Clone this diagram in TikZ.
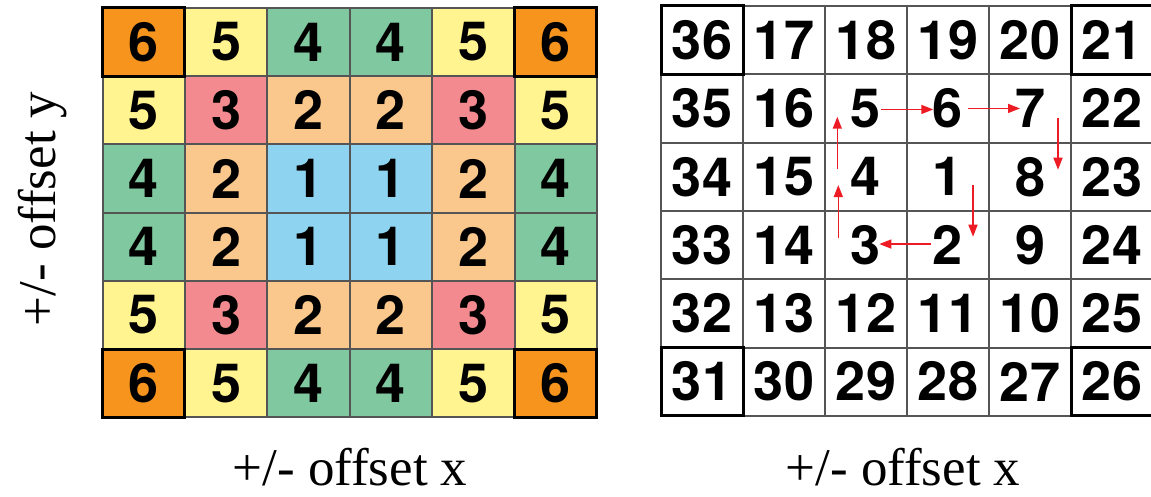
\documentclass[tikz,border=0pt]{standalone}
\usepackage{fontspec}
\setmainfont{Liberation Serif}
\newfontfamily\numfont{TeX Gyre Heros}
\usetikzlibrary{arrows.meta}
\definecolor{c1}{RGB}{142,212,240}
\definecolor{c2}{RGB}{250,200,140}
\definecolor{c3}{RGB}{243,138,143}
\definecolor{c4}{RGB}{128,200,160}
\definecolor{c5}{RGB}{255,244,143}
\definecolor{c6}{RGB}{247,148,30}
\definecolor{gridc}{RGB}{85,85,85}
\definecolor{arr}{RGB}{237,28,36}
\tikzset{
  cellbox/.style={draw=gridc, line width=2pt, inner sep=0pt, outer sep=0pt,
    font=\numfont\bfseries\fontsize{54}{54}\selectfont},
  lcell/.style={cellbox, minimum width=82.4pt, minimum height=68.2pt},
  rcell/.style={cellbox, fill=white, minimum width=82pt, minimum height=68.3pt},
  corner/.style={draw=black, line width=3pt},
  axlabel/.style={font=\fontsize{53}{53}\selectfont, anchor=base, inner sep=0pt},
  spiral/.style={draw=arr, line width=1.5pt, -{Triangle[length=12pt,width=9pt]}}
}
\begin{document}
\begin{tikzpicture}[x=1pt,y=-1pt]
\useasboundingbox (0,0) rectangle (1151,497);
% left grid
\foreach \row [count=\r] in {{6,5,4,4,5,6},{5,3,2,2,3,5},{4,2,1,1,2,4},{4,2,1,1,2,4},{5,3,2,2,3,5},{6,5,4,4,5,6}} {
  \foreach \v [count=\c] in \row {
    \node[lcell, fill=c\v] (L\r\c) at ({102.5+82.4*(\c-0.5)}, {8+68.2*(\r-0.5)}) {\v};
  }
}
\foreach \n in {L11,L16,L61,L66} {
  \draw[corner] (\n.north west) rectangle (\n.south east);
}
% right grid
\foreach \row [count=\r] in {{36,17,18,19,20,21},{35,16,5,6,7,22},{34,15,4,1,8,23},{33,14,3,2,9,24},{32,13,12,11,10,25},{31,30,29,28,27,26}} {
  \foreach \v [count=\c] in \row {
    \node[rcell] (R\r\c) at ({661+82*(\c-0.5)}, {6+68.3*(\r-0.5)}) {\v};
  }
}
\foreach \n in {R11,R16,R61,R66} {
  \draw[corner] (\n.north west) rectangle (\n.south east);
}
% spiral arrows
\draw[spiral] ([shift={(15,1)}]R23.center) -- ([shift={(-14.7,1)}]R24.center);
\draw[spiral] ([shift={(20,0)}]R24.center) -- ([shift={(-10,0)}]R25.center);
\draw[spiral] ([shift={(28,10)}]R25.center) -- ([shift={(28,-7)}]R35.center);
\draw[spiral] ([shift={(25,8)}]R34.center) -- ([shift={(25,-8.3)}]R44.center);
\draw[spiral] ([shift={(-17,-1)}]R44.center) -- ([shift={(13.3,-1)}]R43.center);
\draw[spiral] ([shift={(-27.7,-6.7)}]R43.center) -- ([shift={(-27.7,8.3)}]R33.center);
\draw[spiral] ([shift={(-28.7,-7.5)}]R33.center) -- ([shift={(-28.7,8.3)}]R23.center);
% labels
\node[axlabel] (xl1) at (350,485) {+/- offset x};
\node[axlabel] (xl2) at (903,485) {+/- offset x};
\node[axlabel, rotate=90] (yl) at (55,209) {+/- offset y};
\end{tikzpicture}
\end{document}
